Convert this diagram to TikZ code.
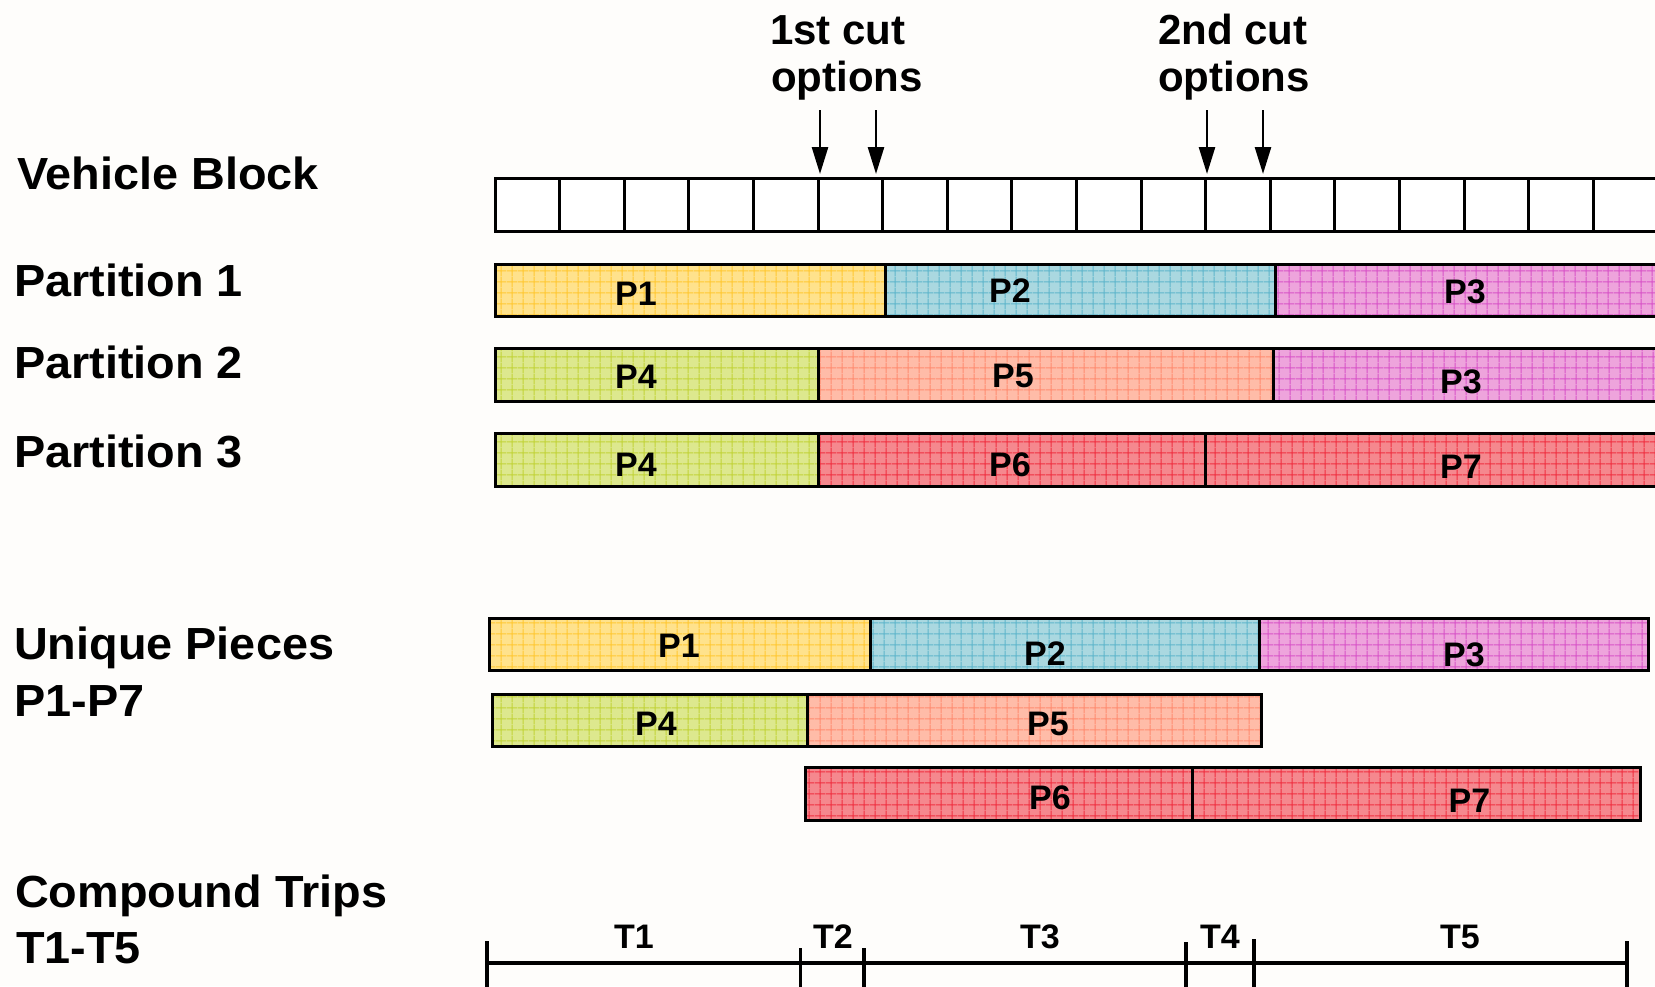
\documentclass[tikz,border=0pt]{standalone}
\usepackage{fontspec}
\setmainfont{Liberation Sans}
\newfontfamily\widefont{Liberation Sans}[FakeStretch=1.04]
\usetikzlibrary{arrows.meta,patterns.meta}
\definecolor{bg}{RGB}{254,253,251}
\definecolor{yfill}{RGB}{255,226,140}
\definecolor{yline}{RGB}{255,200,50}
\definecolor{bfill}{RGB}{170,216,224}
\definecolor{bline}{RGB}{95,182,204}
\definecolor{mfill}{RGB}{238,164,220}
\definecolor{mline}{RGB}{216,84,200}
\definecolor{gfill}{RGB}{221,232,142}
\definecolor{gline}{RGB}{194,212,56}
\definecolor{sfill}{RGB}{255,188,168}
\definecolor{sline}{RGB}{255,140,112}
\definecolor{rfill}{RGB}{245,136,142}
\definecolor{rline}{RGB}{240,48,64}
\begin{document}
\begin{tikzpicture}[x=1pt,y=-1pt,
  seg/.style 2 args={preaction={fill=#1},
    pattern={Hatch[distance=10.66pt,line width=1.1pt]}, pattern color=#2,
    draw=black, line width=3pt},
  vb/.style={draw=black, line width=3pt},
  lab/.style={font=\widefont\fontsize{45}{50}\selectfont\bfseries, anchor=base west, inner sep=0pt},
  cutlab/.style={font=\fontsize{42}{46}\selectfont\bfseries, anchor=base west, inner sep=0pt},
  plab/.style={font=\fontsize{34}{38}\selectfont\bfseries, inner sep=0pt},
  cutarrow/.style={line width=2.6pt, -{Triangle[length=27pt,width=16pt]}},
  tl/.style={line width=3.5pt}
]
\useasboundingbox (0,0) rectangle (1655,986);
\fill[bg] (0,0) rectangle (1655,986);
\clip (0,0) rectangle (1655,986);

% left labels
\node[lab] (lvb) at (17,189) {Vehicle Block};
\node[lab] (lp1) at (14,296) {Partition 1};
\node[lab] (lp2) at (14,378) {Partition 2};
\node[lab] (lp3) at (14,467) {Partition 3};
\node[lab] (lu1) at (14,659) {Unique Pieces};
\node[lab] (lu2) at (14,716) {P1-P7};
\node[lab] (lc1) at (15,907) {Compound Trips};
\node[lab] (lc2) at (16,963) {T1-T5};

% cut labels
\node[cutlab] (cut1a) at (770,44) {1st cut};
\node[cutlab] (cut1b) at (771,91) {options};
\node[cutlab] (cut2a) at (1158,44) {2nd cut};
\node[cutlab] (cut2b) at (1158,91) {options};

% vehicle block
\fill[white] (495,178) rectangle (1700,231);
\draw[vb] (495,178) rectangle (1700,231);
\foreach \k in {1,...,17} \draw[vb] ({495+64.6*\k},178) -- ({495+64.6*\k},231);

% cut arrows
\coordinate (a1s) at (820,110); \coordinate (a1e) at (820,174);
\coordinate (a2s) at (876,110); \coordinate (a2e) at (876,174);
\coordinate (a3s) at (1207,110); \coordinate (a3e) at (1207,174);
\coordinate (a4s) at (1263,110); \coordinate (a4e) at (1263,174);
\draw[cutarrow] (a1s) -- (a1e);
\draw[cutarrow] (a2s) -- (a2e);
\draw[cutarrow] (a3s) -- (a3e);
\draw[cutarrow] (a4s) -- (a4e);

% partition 1
\path[seg={yfill}{yline}] (495,264) rectangle (885,316);
\path[seg={bfill}{bline}] (885,264) rectangle (1275,316);
\path[seg={mfill}{mline}] (1275,264) rectangle (1700,316);
\node[plab] (q11) at (636,294) {P1};
\node[plab] (q12) at (1010,291) {P2};
\node[plab] (q13) at (1465,292) {P3};

% partition 2
\path[seg={gfill}{gline}] (495,348) rectangle (818,401);
\path[seg={sfill}{sline}] (818,348) rectangle (1273,401);
\path[seg={mfill}{mline}] (1273,348) rectangle (1700,401);
\node[plab] (q21) at (636,376.5) {P4};
\node[plab] (q22) at (1013,376) {P5};
\node[plab] (q23) at (1461,382) {P3};

% partition 3
\path[seg={gfill}{gline}] (495,433) rectangle (818,486);
\path[seg={rfill}{rline}] (818,433) rectangle (1205,486);
\path[seg={rfill}{rline}] (1205,433) rectangle (1700,486);
\node[plab] (q31) at (636,464.5) {P4};
\node[plab] (q32) at (1010,464.5) {P6};
\node[plab] (q33) at (1461,467) {P7};

% unique pieces
\path[seg={yfill}{yline}] (489,618) rectangle (870,670);
\path[seg={bfill}{bline}] (870,618) rectangle (1259,670);
\path[seg={mfill}{mline}] (1259,618) rectangle (1648,670);
\path[seg={gfill}{gline}] (492,694.5) rectangle (807,746.5);
\path[seg={sfill}{sline}] (807,694.5) rectangle (1261,746.5);
\path[seg={rfill}{rline}] (805,767) rectangle (1192,820);
\path[seg={rfill}{rline}] (1192,767) rectangle (1640,820);
\node[plab] (u1) at (679,646) {P1};
\node[plab] (u2) at (1045,654) {P2};
\node[plab] (u3) at (1464,655) {P3};
\node[plab] (u4) at (656,724) {P4};
\node[plab] (u5) at (1048,724) {P5};
\node[plab] (u6) at (1050,797.5) {P6};
\node[plab] (u7) at (1469.5,800.5) {P7};

% compound trips timeline
\coordinate (t0) at (487,963);
\coordinate (t1) at (800.5,963);
\coordinate (t2) at (864,963);
\coordinate (t3) at (1186,963);
\coordinate (t4) at (1254,963);
\coordinate (t5) at (1627,963);
\draw[tl] (t0) -- (t5);
\draw[tl] ([yshift=22pt]t0) -- ([yshift=-30pt]t0);
\draw[tl] ([yshift=15pt]t1) -- ([yshift=-30pt]t1);
\draw[tl] ([yshift=15pt]t2) -- ([yshift=-30pt]t2);
\draw[tl] ([yshift=21pt]t3) -- ([yshift=-30pt]t3);
\draw[tl] ([yshift=24pt]t4) -- ([yshift=-30pt]t4);
\draw[tl] ([yshift=22pt]t5) -- ([yshift=-30pt]t5);
\node[plab] (T1) at (634,936.5) {T1};
\node[plab] (T2) at (833,936.5) {T2};
\node[plab] (T3) at (1040,936.5) {T3};
\node[plab] (T4) at (1220,936.5) {T4};
\node[plab] (T5) at (1460,936.5) {T5};
\end{tikzpicture}
\end{document}
